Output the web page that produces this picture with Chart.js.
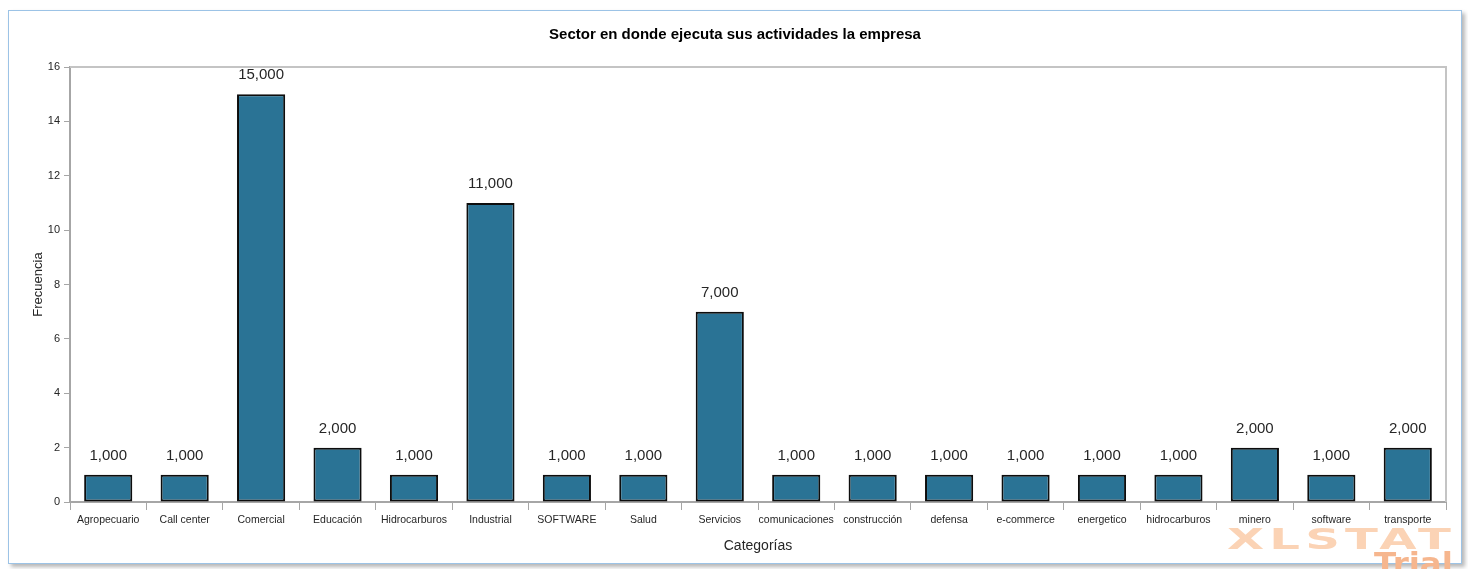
<!DOCTYPE html>
<html>
<head>
<meta charset="utf-8">
<script src="https://cdn.jsdelivr.net/npm/chart.js@4"></script>
<style>
  html, body { margin: 0; padding: 0; background: #ffffff; overflow: hidden; }
  #frame {
    position: absolute; left: 8px; top: 10px; width: 1452px; height: 552px;
    border: 1px solid #9cc3e6; box-shadow: 3px 3px 4px #b8b8b8; background: #fff;
  }
  #wrap { position: absolute; left: 0; top: 0; width: 1468px; height: 569px; }
  .mark { position: absolute; font-family: 'DejaVu Sans', sans-serif; font-weight: bold; pointer-events: none; }
  #m1 { left: 1227px; top: 523px; font-size: 28px; color: #fbd3b5; letter-spacing: 3px; transform: scaleX(1.72); transform-origin: left top; }
  #m2 { left: 1374px; top: 545px; font-size: 31px; color: #f6b68e; transform: scaleX(1.05); transform-origin: left top; }
</style>
</head>
<body>
<div id="frame"></div>
<div id="wrap"><canvas id="sectorChart" width="1468" height="569"></canvas></div>
<div class="mark" id="m1">XLSTAT</div>
<div class="mark" id="m2">Trial</div>
<script>
// --- DATOS ---
const categorias = ['Agropecuario', 'Call center', 'Comercial', 'Educación', 'Hidrocarburos', 'Industrial',
    'SOFTWARE', 'Salud', 'Servicios', 'comunicaciones', 'construcción', 'defensa', 'e-commerce',
    'energetico', 'hidrocarburos', 'minero', 'software', 'transporte'];
const frecuencias = [1, 1, 15, 2, 1, 11, 1, 1, 7, 1, 1, 1, 1, 1, 1, 2, 1, 2];
const ticksY = [0, 2, 4, 6, 8, 10, 12, 14, 16];

const fuente = "'Liberation Sans', Arial, sans-serif";

// etiquetas con el valor encima de cada barra
const etiquetasValor = {
    id: 'etiquetasValor',
    afterDatasetsDraw(chart) {
        const ctx = chart.ctx;
        const meta = chart.getDatasetMeta(0);
        ctx.save();
        ctx.font = '15px ' + fuente;
        ctx.fillStyle = '#262626';
        ctx.textAlign = 'center';
        ctx.textBaseline = 'middle';
        meta.data.forEach((bar, i) => {
            const txt = (frecuencias[i] * 1000).toLocaleString('en-US');
            ctx.fillText(txt, bar.x, bar.y - 19);
        });
        ctx.restore();
    }
};

// marco gris del area de trazado (lado superior y derecho)
const marcoArea = {
    id: 'marcoArea',
    beforeDatasetsDraw(chart) {
        const a = chart.chartArea;
        const ctx = chart.ctx;
        ctx.save();
        ctx.strokeStyle = '#c4c4c4';
        ctx.lineWidth = 2;
        ctx.beginPath();
        ctx.moveTo(a.left, a.top);
        ctx.lineTo(a.right, a.top);
        ctx.lineTo(a.right, a.bottom);
        ctx.stroke();
        ctx.restore();
    }
};

const ctx = document.getElementById('sectorChart').getContext('2d');
new Chart(ctx, {
    type: 'bar',
    data: {
        labels: categorias,
        datasets: [{
            data: frecuencias,
            backgroundColor: '#2a7395',
            borderColor: '#0d0d0d',
            borderWidth: 2,
            borderSkipped: false,
            barPercentage: 0.63,
            categoryPercentage: 1
        }]
    },
    options: {
        responsive: false,
        animation: false,
        layout: { padding: { top: 1, left: 24, right: 22, bottom: 10 } },
        plugins: {
            legend: { display: false },
            tooltip: { enabled: false },
            title: {
                display: true,
                text: 'Sector en donde ejecuta sus actividades la empresa',
                color: '#000',
                font: { family: fuente, size: 15, weight: 'bold' },
                padding: { top: 25, bottom: 23 }
            }
        },
        scales: {
            x: {
                grid: { display: true, offset: true, drawOnChartArea: false, tickLength: 8, color: '#a6a6a6' },
                border: { color: '#a6a6a6', width: 2 },
                ticks: { color: '#262626', font: { family: fuente, size: 10.5 }, maxRotation: 0, autoSkip: false, padding: 4 },
                title: { display: true, text: 'Categorías', color: '#262626', font: { family: fuente, size: 14 }, padding: { top: 6 } },
                afterFit: s => { s.height = 57; }
            },
            y: {
                min: 0, max: 16,
                afterBuildTicks: s => { s.ticks = ticksY.map(v => ({ value: v })); },
                grid: { drawOnChartArea: false, tickLength: 6, color: '#a6a6a6' },
                border: { color: '#a6a6a6', width: 2 },
                ticks: { color: '#262626', font: { family: fuente, size: 11 }, padding: 4 },
                title: { display: true, text: 'Frecuencia', color: '#262626', font: { family: fuente, size: 13 }, padding: { top: 7, bottom: 2 } },
                afterFit: s => { s.width = 46; }
            }
        }
    },
    plugins: [marcoArea, etiquetasValor]
});
</script>
</body>
</html>
